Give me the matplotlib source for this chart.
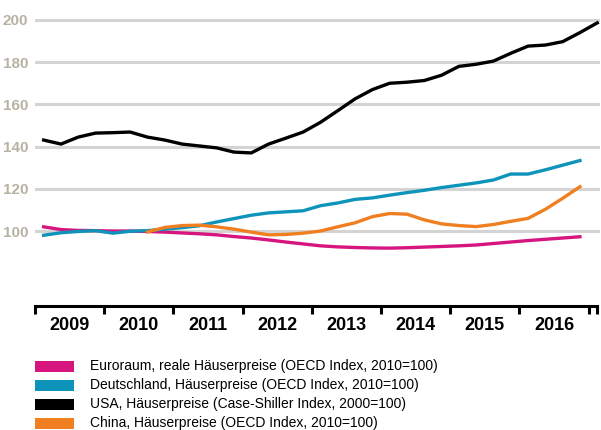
import numpy as np
import matplotlib
matplotlib.use("Agg")
import matplotlib.pyplot as plt
from matplotlib.patches import Rectangle

plt.rcParams['font.family'] = ['Liberation Sans', 'DejaVu Sans']

# Quartalswerte, 2009Q1 ...
euro = [102.0, 100.7, 100.3, 100.2, 100.0, 100.0, 99.8, 99.5, 99.1, 98.7, 98.2,
        97.4, 96.7, 95.8, 94.8, 93.9, 93.0, 92.5, 92.2, 92.0, 91.9, 92.1, 92.4,
        92.7, 93.0, 93.4, 94.1, 94.8, 95.5, 96.1, 96.7, 97.3]
deutschland = [98.0, 99.2, 99.8, 100.2, 99.0, 99.9, 100.2, 100.9, 101.6, 102.5,
               104.3, 105.9, 107.5, 108.6, 109.1, 109.6, 112.0, 113.3, 115.0,
               115.7, 117.0, 118.2, 119.3, 120.6, 121.7, 122.8, 124.2, 127.0,
               127.0, 129.0, 131.2, 133.4]
usa = [143.1, 141.2, 144.5, 146.4, 146.6, 146.9, 144.5, 143.1, 141.2, 140.3,
       139.4, 137.4, 137.0, 141.2, 144.0, 146.9, 151.5, 157.0, 162.6, 167.0,
       170.0, 170.5, 171.3, 173.8, 178.0, 179.0, 180.5, 184.2, 187.6, 188.1,
       189.7, 194.0, 198.6]
# China ab 2010Q3
china = [99.6, 101.7, 102.6, 102.8, 102.0, 100.9, 99.5, 98.2, 98.4, 99.0, 100.0,
         102.0, 103.9, 106.8, 108.3, 108.0, 105.3, 103.4, 102.6, 102.1, 103.1,
         104.6, 106.0, 110.3, 115.5, 121.0]

years = [2009, 2010, 2011, 2012, 2013, 2014, 2015, 2016]
yticks = [100, 120, 140, 160, 180, 200]

labels = ["Euroraum, reale Häuserpreise (OECD Index, 2010=100)",
          "Deutschland, Häuserpreise (OECD Index, 2010=100)",
          "USA, Häuserpreise (Case-Shiller Index, 2000=100)",
          "China, Häuserpreise (OECD Index, 2010=100)"]
colors = ["#d6157f", "#0e94bb", "#000000", "#f07f22"]


def quarters(start, n):
    return 2009 + (start + np.arange(n) + 0.5) / 4


W, H = 601, 430
fig = plt.figure(figsize=(W / 100, H / 100), dpi=100)
ax = fig.add_axes([35 / W, (H - 306) / H, (600 - 35) / W, (306 - 10) / H])

x_right = 2009 + (600 - 35) / 69.2
ax.set_xlim(2009, x_right)
ax.set_ylim(64.5, 204.7)

for v in yticks:
    ax.axhline(v, color="#d4d4d4", lw=2.2, zorder=1)

lw = 2.4
ax.plot(quarters(0, len(euro)), euro, color=colors[0], lw=lw, zorder=3)
ax.plot(quarters(0, len(deutschland)), deutschland, color=colors[1], lw=lw, zorder=3)
ax.plot(quarters(0, len(usa)), usa, color=colors[2], lw=lw, zorder=4)
ax.plot(quarters(6, len(china)), china, color=colors[3], lw=lw, zorder=3)

for s in ["top", "right", "left"]:
    ax.spines[s].set_visible(False)
ax.spines["bottom"].set_linewidth(2.2)
ax.spines["bottom"].set_bounds(2009, 2017.12)

ax.set_yticks(yticks)
ax.set_yticklabels([str(v) for v in yticks], color="#b7b3a3",
                   fontsize=11, fontweight="bold")
ax.tick_params(axis="y", length=0, pad=5)

ax.set_xticks(years + [2017, 2017.12])
ax.set_xticklabels([])
ax.tick_params(axis="x", which="major", length=6, width=2.2, direction="out")
ax.set_xticks([y + 0.5 for y in years], minor=True)
ax.set_xticklabels([str(y) for y in years], minor=True,
                   fontsize=13, fontweight="bold")
ax.tick_params(axis="x", which="minor", length=0, pad=8)

# Legende
for i, (lab, c) in enumerate(zip(labels, colors)):
    yc = 366 + i * 19
    fig.add_artist(Rectangle((35 / W, (H - yc - 5.5) / H), 39 / W, 11 / H,
                             transform=fig.transFigure, color=c, lw=0))
    fig.text(90 / W, (H - yc) / H, lab, fontsize=10, va="center", ha="left")

fig.savefig("out.png", dpi=100)
